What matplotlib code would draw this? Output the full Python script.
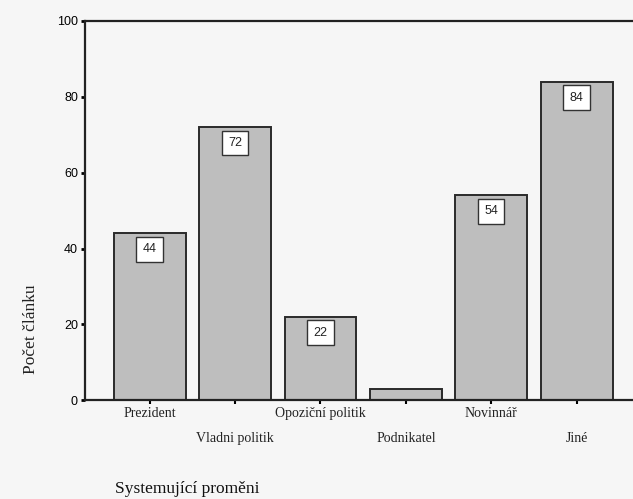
import matplotlib
matplotlib.use("Agg")
import matplotlib.pyplot as plt

# categories and counts
categories = ["Prezident", "Vladni politik", "Opoziční politik", "Podnikatel", "Novinnář", "Jiné"]
counts = [44, 72, 22, 3, 54, 84]
shown_labels = ["44", "72", "22", "", "54", "84"]
y_ticks = [0, 20, 40, 60, 80, 100]

bg = "#f6f6f6"
fig = plt.figure(figsize=(6.33, 4.99), dpi=100, facecolor=bg)
ax = fig.add_axes([0.134, 0.198, 0.866, 0.76], facecolor=bg)

x = list(range(len(categories)))
ax.bar(x, counts, width=0.84, color="#bebebe", edgecolor="#2a2a2a", linewidth=1.4)

# value boxes inside the top of each bar
for xi, v, lab in zip(x, counts, shown_labels):
    if not lab:
        continue
    ax.annotate(lab, (xi, v), xytext=(0, -11.5), textcoords="offset points",
                ha="center", va="center", fontsize=9, family="Liberation Sans",
                color="#222222",
                bbox=dict(boxstyle="square,pad=0.5", fc="white", ec="#333333", lw=1.0))

ax.set_xlim(-0.76, 5.66)
ax.set_ylim(0, 100)
ax.set_yticks(y_ticks)
ax.set_yticklabels([str(t) for t in y_ticks], family="Liberation Sans", fontsize=9)
ax.tick_params(axis="y", length=3, width=2, direction="out", pad=2)
ax.set_xticks(x)
ax.set_xticklabels([])
ax.tick_params(axis="x", length=3, width=1.5, direction="out")

# staggered category labels
for i, name in enumerate(categories):
    yoff = -0.034 if i % 2 == 0 else -0.10
    ax.text(i, yoff, name, transform=ax.get_xaxis_transform(), ha="center", va="center",
            family="Liberation Serif", fontsize=10, color="#222222")

for side in ["left", "bottom", "top"]:
    ax.spines[side].set_linewidth(1.6)
    ax.spines[side].set_color("#222222")
ax.spines["right"].set_visible(False)

fig.text(0.049, 0.34, "Počet článku", rotation=90, ha="center", va="center",
         family="Liberation Serif", fontsize=12.5, color="#222222")
fig.text(0.182, 0.004, "Systemující proměni", ha="left", va="bottom",
         family="Liberation Serif", fontsize=12.5, color="#111111")

fig.savefig("out.png", dpi=100, facecolor=bg)
